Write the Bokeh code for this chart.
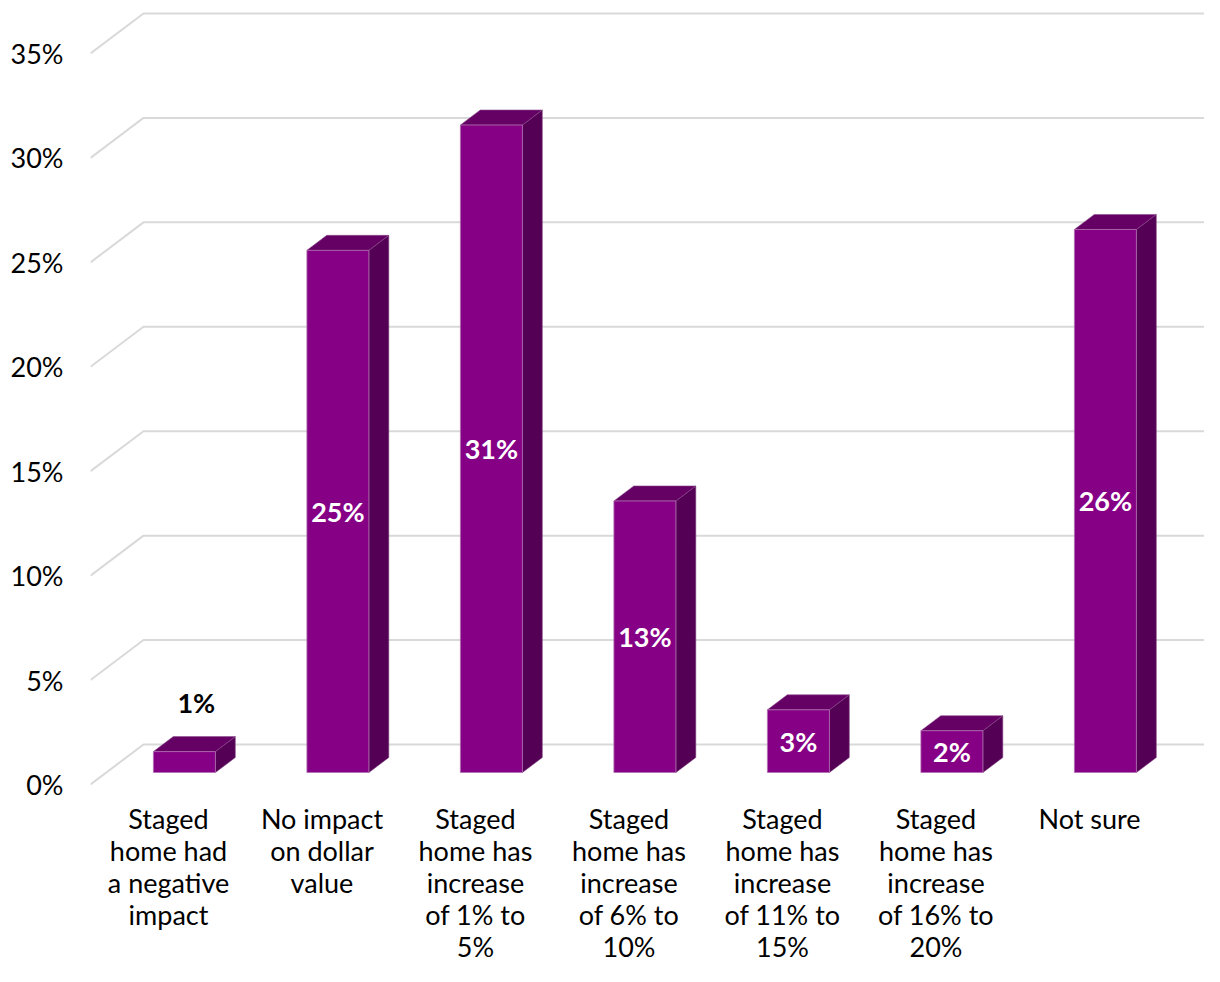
from bokeh.plotting import figure
from bokeh.models import Range1d, FixedTicker, PrintfTickFormatter
from bokeh.embed import file_html
from bokeh.resources import INLINE
from bokeh.core.properties import value

# ---- data ----
categories = [
    "Staged\nhome had\na negative\nimpact",
    "No impact\non dollar\nvalue",
    "Staged\nhome has\nincrease\nof 1% to\n5%",
    "Staged\nhome has\nincrease\nof 6% to\n10%",
    "Staged\nhome has\nincrease\nof 11% to\n15%",
    "Staged\nhome has\nincrease\nof 16% to\n20%",
    "Not sure",
]
values = [1, 25, 31, 13, 3, 2, 26]
y_ticks = [0, 5, 10, 15, 20, 25, 30, 35]

# ---- layout constants (pixels) ----
FIG_W, FIG_H = 1204, 966
LEFT = 90
PX_X = 153.5     # px per category
PX_Y = 20.886    # px per percentage point
X0_PX = 168      # figure px of category 0 centre
Y0_PX = 784      # figure px (from top) of value 0

x_start = (LEFT - X0_PX) / PX_X
x_end = (FIG_W - X0_PX) / PX_X
y_top = Y0_PX / PX_Y
y_bot = -(FIG_H - Y0_PX) / PX_Y

WALL_DX = 53 / PX_X      # back wall depth offset in x units
WALL_DY = 40 / PX_Y      # back wall depth offset in y units
D0, D1 = 0.3, 0.675      # bar depth extent (fraction of wall depth)
HW = 31 / PX_X           # half width of bar front face

FRONT = "#860086"
TOP = "#650065"
SIDE = "#540054"
GRID = "#d9d9d9"
FONT = "Lato"

p = figure(width=FIG_W, height=FIG_H, output_backend="svg", toolbar_location=None,
           x_range=Range1d(x_start, x_end), y_range=Range1d(y_bot, y_top),
           x_axis_location=None, min_border_left=LEFT, min_border_right=0,
           min_border_top=0, min_border_bottom=0, outline_line_color=None,
           background_fill_color="white", border_fill_color="white")
p.xgrid.visible = False
p.ygrid.visible = False

ax = p.yaxis[0]
ax.ticker = FixedTicker(ticks=y_ticks)
ax.formatter = PrintfTickFormatter(format="%d%%")
ax.axis_line_color = None
ax.major_tick_line_color = None
ax.minor_tick_line_color = None
ax.major_label_standoff = 21
ax.major_label_text_font = FONT
ax.major_label_text_font_size = "27px"
ax.major_label_text_color = "#000000"

# ---- gridlines (3D back wall + left diagonal) ----
gx, gy = [], []
for t in y_ticks:
    gx.append([x_start, x_start + WALL_DX, x_end])
    gy.append([t, t + WALL_DY, t + WALL_DY])
p.multi_line(gx, gy, line_color=GRID, line_width=2)

# ---- 3D bars ----
ddx = (D1 - D0) * WALL_DX
ddy = (D1 - D0) * WALL_DY
fl, fr, fb, ft = [], [], [], []
top_xs, top_ys, side_xs, side_ys = [], [], [], []
for i, v in enumerate(values):
    x0 = i - HW + D0 * WALL_DX
    x1 = i + HW + D0 * WALL_DX
    yb = D0 * WALL_DY
    yt = v + yb
    fl.append(x0); fr.append(x1); fb.append(yb); ft.append(yt)
    top_xs.append([x0, x1, x1 + ddx, x0 + ddx])
    top_ys.append([yt, yt, yt + ddy, yt + ddy])
    side_xs.append([x1, x1 + ddx, x1 + ddx, x1])
    side_ys.append([yb, yb + ddy, yt + ddy, yt])

p.patches(side_xs, side_ys, fill_color=SIDE, line_color="#7a3a7a", line_width=0.6)
p.patches(top_xs, top_ys, fill_color=TOP, line_color="#8a4a8a", line_width=0.6)
p.quad(left=fl, right=fr, bottom=fb, top=ft, fill_color=FRONT,
       line_color="#b070b0", line_width=0.8)

# ---- data labels ----
in_x, in_y, in_t, out_x, out_y, out_t = [], [], [], [], [], []
for i, v in enumerate(values):
    lab = f"{v}%"
    if v * PX_Y >= 30:
        in_x.append((fl[i] + fr[i]) / 2)
        in_y.append((fb[i] + ft[i]) / 2)
        in_t.append(lab)
    else:
        out_x.append((fl[i] + fr[i] + ddx) / 2 + 2 / PX_X)
        out_y.append(ft[i] + ddy + 34 / PX_Y)
        out_t.append(lab)

p.text(in_x, in_y, text=in_t, text_align="center", text_baseline="middle",
       text_font=value(FONT), text_font_style="bold", text_font_size="27px",
       text_color="white")
p.text(out_x, out_y, text=out_t, text_align="center", text_baseline="middle",
       text_font=value(FONT), text_font_style="bold", text_font_size="27px",
       text_color="black")

# ---- category labels ----
cat_x = list(range(len(categories)))
cat_y = [-17 / PX_Y] * len(categories)
p.text(cat_x, cat_y, text=categories, text_align="center", text_baseline="top",
       text_font=value(FONT), text_font_size="27px", text_color="black",
       text_line_height=0.977)

open("out.html", "w").write(file_html(p, INLINE))
